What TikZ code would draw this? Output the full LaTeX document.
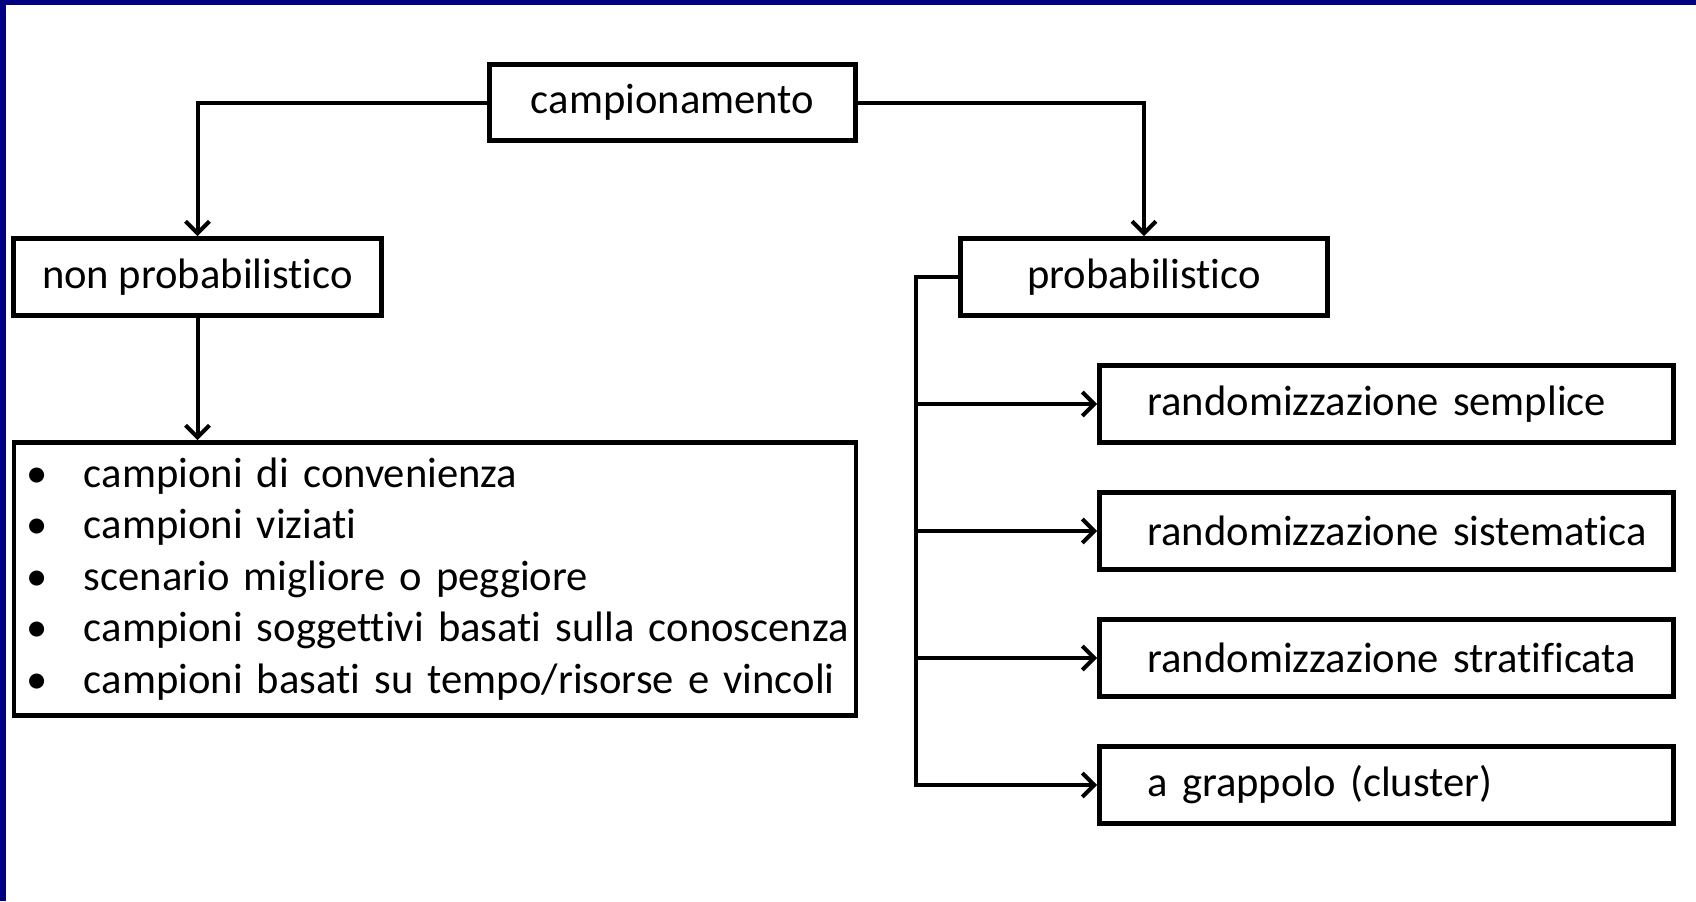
\documentclass[tikz,border=0pt]{standalone}
\usepackage{fontspec}
\setmainfont{Carlito}[Ligatures=NoCommon]
\usetikzlibrary{arrows.meta}
\newcommand{\punto}[1]{\makebox[31pt][l]{\hspace{2pt}\textbullet}\mbox{#1}}

\begin{document}
\begin{tikzpicture}[x=0.5pt,y=-0.5pt,
  scatola/.style={draw, rectangle, line width=2.4pt, inner sep=0pt, font=\fontsize{21.3}{25.7}\selectfont},
  voce/.style={scatola, minimum height=38.5pt, text width=263pt, inner xsep=12pt, align=left},
  freccia/.style={line width=2pt, -{Straight Barb[length=6pt,width=12pt,line width=2pt]}}]
\useasboundingbox (0,0) rectangle (1696,901);
\fill[blue!50!black] (0,0) rectangle (1696,5);
\fill[blue!50!black] (0,0) rectangle (6,901);

\node[scatola, minimum width=183pt, minimum height=38pt] (campionamento) at (672.5,102.5) {campionamento};
\node[scatola, minimum width=184pt, minimum height=38.5pt] (nonprob) at (197.5,277) {non probabilistico};
\node[scatola, minimum width=183.5pt, minimum height=38.5pt] (prob) at (1144,277) {probabilistico};

\node[scatola, minimum height=136.5pt, text width=413pt, inner xsep=4pt, align=left] (elenco) at (435,579) {%
\punto{campioni di convenienza}\\
\punto{campioni viziati}\\
\punto{scenario migliore o peggiore}\\
\punto{campioni soggettivi basati sulla conoscenza}\\
\punto{campioni basati su tempo/risorse e vincoli}};

\node[voce] (semplice) at (1386.5,404) {\hspace*{12pt}randomizzazione semplice};
\node[voce] (sistematica) at (1386.5,531) {\hspace*{12pt}randomizzazione sistematica};
\node[voce] (stratificata) at (1386.5,658) {\hspace*{12pt}randomizzazione stratificata};
\node[voce] (grappolo) at (1386.5,785) {\hspace*{12pt}a grappolo (cluster)};

\coordinate (fondo) at (916,785);

\draw[freccia] (campionamento.west) -| (nonprob.north);
\draw[freccia] (campionamento.east) -| (prob.north);
\draw[freccia] (nonprob.south) -- (elenco.north -| nonprob.south);
\draw[freccia] (prob.west) -| (fondo) -- (grappolo.west);
\draw[freccia] (semplice.west -| fondo) -- (semplice.west);
\draw[freccia] (sistematica.west -| fondo) -- (sistematica.west);
\draw[freccia] (stratificata.west -| fondo) -- (stratificata.west);
\end{tikzpicture}
\end{document}
